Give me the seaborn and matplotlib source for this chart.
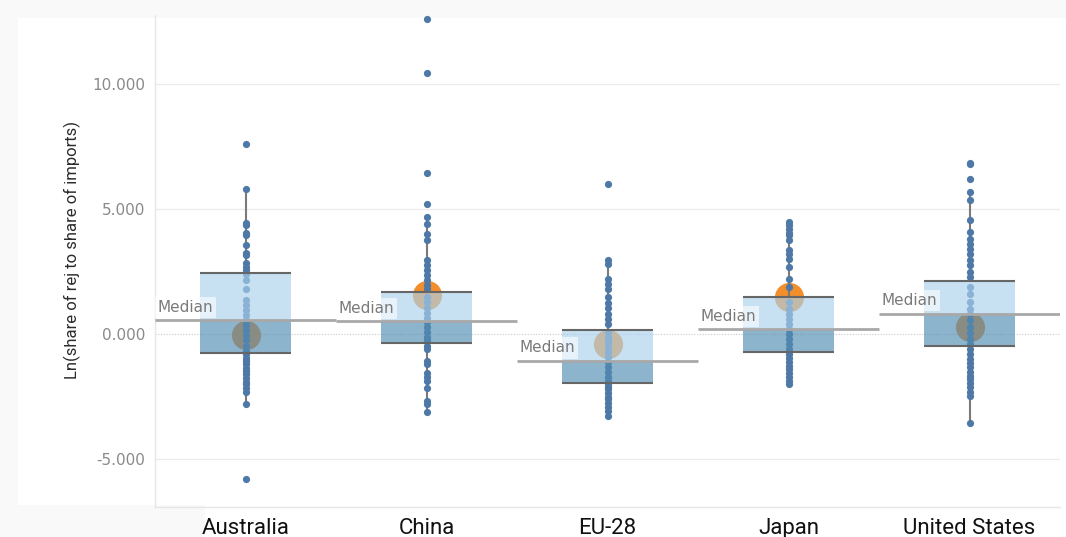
import matplotlib
matplotlib.use("Agg")
import matplotlib.pyplot as plt
import seaborn as sns
import pandas as pd
from matplotlib.patches import Rectangle

countries = ["Australia", "China", "EU-28", "Japan", "United States"]

australia = [7.6, 5.8, 4.45, 4.35, 4.05, 3.95, 3.55, 3.25, 3.15, 2.85, 2.7, 2.55, 2.4, 2.15,
             1.8, 1.35, 1.15, 0.95, 0.75, 0.55, 0.35, 0.15, -0.05, -0.25, -0.45, -0.65, -0.8,
             -0.95, -1.05, -1.2, -1.35, -1.45, -1.6, -1.75, -1.9, -2.0, -2.15, -2.3, -2.8, -5.8]
china = [12.6, 10.45, 6.45, 5.2, 4.7, 4.4, 4.0, 3.75, 2.95, 2.75, 2.55, 2.35, 2.15, 1.95, 1.8,
         1.5, 1.3, 1.05, 0.85, 0.65, 0.5, 0.3, 0.1, -0.1, -0.25, -0.45, -0.6, -1.05, -1.2,
         -1.55, -1.7, -1.85, -2.15, -2.65, -2.8, -3.1]
eu28 = [6.0, 2.95, 2.8, 2.2, 2.0, 1.8, 1.5, 1.25, 1.05, 0.8, 0.6, 0.4, 0.1, -0.1, -0.3, -0.5,
        -0.7, -0.9, -1.1, -1.3, -1.5, -1.7, -1.85, -2.0, -2.1, -2.2, -2.35, -2.5, -2.6, -2.75,
        -2.9, -3.05, -3.25]
japan = [4.5, 4.35, 4.2, 4.05, 3.95, 3.75, 3.35, 3.2, 3.0, 2.7, 2.2, 1.9, 1.3, 1.0, 0.8, 0.6,
         0.4, 0.2, 0.0, -0.2, -0.4, -0.6, -0.8, -0.95, -1.1, -1.25, -1.4, -1.55, -1.7, -1.85, -2.0]
united_states = [6.85, 6.78, 6.2, 5.7, 5.35, 4.55, 4.1, 3.8, 3.6, 3.4, 3.2, 2.95, 2.75, 2.5, 2.3,
                 1.9, 1.6, 1.3, 1.0, 0.8, 0.55, 0.3, 0.05, -0.2, -0.4, -0.6, -0.8, -1.0, -1.15,
                 -1.3, -1.5, -1.65, -1.8, -1.95, -2.1, -2.3, -2.45, -3.55]

# box statistics as drawn in the reference
q1 = [-0.73, -0.34, -1.93, -0.71, -0.45]
medians = [0.55, 0.52, -1.07, 0.19, 0.81]
q3 = [2.45, 1.70, 0.15, 1.47, 2.13]
whisker_lo = [-2.8, -3.1, -3.25, -2.0, -3.55]
whisker_hi = [5.8, 4.7, 2.95, 4.5, 5.7]
means = [-0.02, 1.55, -0.4, 1.5, 0.3]

df = pd.DataFrame({
    "country": sum([[c] * len(v) for c, v in
                    zip(countries, [australia, china, eu28, japan, united_states])], []),
    "value": australia + china + eu28 + japan + united_states,
})

sns.set_theme(style="white")
plt.rcParams["font.family"] = ["DejaVu Sans"]

fig = plt.figure(figsize=(10.66, 5.37), dpi=100)
fig.patch.set_facecolor("#f9f9f9")
W, H = 1066, 537
fig.patches.append(Rectangle((18 / W, 1 - 505 / H), 1 - 18 / W, 487 / H,
                             transform=fig.transFigure, facecolor="white", edgecolor="none", zorder=-10))
fig.patches.append(Rectangle((205 / W, 0), 1 - 205 / W, 32 / H,
                             transform=fig.transFigure, facecolor="white", edgecolor="none", zorder=-10))

ax = fig.add_axes([155 / W, 1 - 507 / H, 905 / W, 492 / H])
ax.set_facecolor("none")

pos = list(range(len(countries)))

# mean circles (sit under the boxes)
ax.scatter(pos, means, s=440, color="#f28e2b", linewidths=0, zorder=1)

# whiskers
ax.vlines(pos, whisker_lo, q1, color="#7a7a7a", lw=1.5, zorder=1.5)
ax.vlines(pos, q3, whisker_hi, color="#7a7a7a", lw=1.5, zorder=1.5)

sns.stripplot(data=df, x="country", y="value", order=countries, jitter=False,
              size=5.2, color="#4e79a7", linewidth=0, ax=ax, zorder=2)

# two-tone boxes
lower_h = [m - a for m, a in zip(medians, q1)]
upper_h = [b - m for b, m in zip(q3, medians)]
ax.bar(pos, lower_h, bottom=q1, width=0.5, color="#508cb2", alpha=0.65, lw=0, zorder=3)
ax.bar(pos, upper_h, bottom=medians, width=0.5, color="#a9d1ee", alpha=0.65, lw=0, zorder=3)
ax.hlines(q1, [p - 0.25 for p in pos], [p + 0.25 for p in pos], color="#666666", lw=1.5, zorder=3.5)
ax.hlines(q3, [p - 0.25 for p in pos], [p + 0.25 for p in pos], color="#666666", lw=1.5, zorder=3.5)

# median reference lines with labels
ax.hlines(medians, [p - 0.5 for p in pos], [p + 0.5 for p in pos], color="#a8a8a8", lw=2, zorder=4)
for p, m in zip(pos, medians):
    ax.annotate("Median", xy=(p - 0.5, m), xytext=(2, 4), textcoords="offset points",
                ha="left", va="bottom", fontsize=11, color="#7a7a7a", zorder=5,
                bbox=dict(boxstyle="square,pad=0.2", facecolor="white", edgecolor="none", alpha=0.6))

# grid
for v in [10, 5, -5]:
    ax.axhline(v, color="#ececec", lw=1, zorder=0)
ax.axhline(0, color="#c8c8c8", lw=0.8, ls=(0, (1, 1.5)), zorder=0)

ax.set_xlim(-0.5, 4.5)
ax.set_ylim(-6.9, 12.75)
ax.set_yticks([10, 5, 0, -5])
ax.set_yticklabels(["10.000", "5.000", "0.000", "-5.000"])
ax.tick_params(axis="y", length=0, pad=7, labelsize=11, labelcolor="#8a8a8a")
ax.tick_params(axis="x", length=0, pad=8, labelsize=16, labelcolor="#111111")
ax.set_xticks(pos)
ax.set_xticklabels(countries, fontfamily="Roboto")
ax.set_xticks([p + 0.5 for p in pos[:-1]], minor=True)
ax.tick_params(axis="x", which="minor", length=6, color="#e6e6e6", width=1)
ax.set_xlabel("")
ax.set_ylabel("Ln(share of rej to share of imports)", fontsize=12, color="#2b2b2b",
              fontfamily="Roboto")
ax.yaxis.set_label_coords(-0.082, 0.522)

for s in ["top", "right"]:
    ax.spines[s].set_visible(False)
for s in ["left", "bottom"]:
    ax.spines[s].set_color("#e6e6e6")
    ax.spines[s].set_linewidth(1)

fig.savefig("out.png", dpi=100, facecolor=fig.get_facecolor())
